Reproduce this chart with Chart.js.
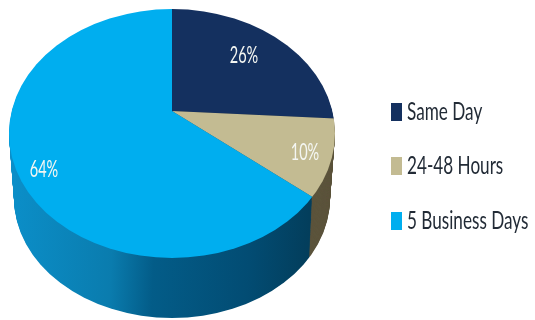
<!DOCTYPE html>
<html>
<head>
<meta charset="utf-8">
<title>Delivery time</title>
<script src="https://cdn.jsdelivr.net/npm/chart.js@4/dist/chart.umd.min.js"></script>
<style>
    html, body { margin: 0; padding: 0; background: #fff; }
    canvas { display: block; }
</style>
</head>
<body>
<canvas id="pie" width="535" height="320"></canvas>
<script>
const categories = ['Same Day', '24-48 Hours', '5 Business Days'];
const shares = [26, 10, 64];
const percentLabels = ['26%', '10%', '64%'];
const sliceColors = ['#14305f', '#c3bb92', '#00aeef'];

// Where the tilted disc sits on the canvas
const disc = { apexX: 172, apexY: 111, cx: 172, cy: 133.5, rx: 163, ry: 124.5, squash: 0.74, reach: 260 };
// Lower edge of the rim: the apex drops less than the outline does
const rim = { steps: 64, apexDrop: 60, apexDrift: -3, cyDrop: 64.5, bottomRx: 158, bottomRy: 120 };
const labelAnchors = [[244, 56], [305, 153], [44, 170]];

// Lato is too wide for these labels, so text gets squeezed horizontally
const legendSqueeze = 0.686;
const labelSqueeze = 0.63;
const legendTextX = 407;
const legendFontSize = 25;

// Legend swatches are small canvases so the gap to the text stays tight
function makeSwatch(color) {
    const c = document.createElement('canvas');
    c.width = Math.round(11 / legendSqueeze);
    c.height = 18;
    const g = c.getContext('2d');
    g.fillStyle = color;
    g.fillRect(0, 0, c.width, c.height);
    return c;
}
const swatches = sliceColors.map(makeSwatch);

function rimFill(ctx, arc, index, scaleX) {
    if (index === 1) return '#5c543c';
    if (index === 0) return '#0c1f3f';
    const toArc = x => arc.x + (x - disc.apexX) / scaleX;
    const grad = ctx.createLinearGradient(toArc(10), 0, toArc(310), 0);
    grad.addColorStop(0, '#0b8fc9');
    grad.addColorStop(0.34, '#0a7cae');
    grad.addColorStop(0.48, '#035c88');
    grad.addColorStop(0.8, '#024c73');
    grad.addColorStop(1, '#033e5c');
    return grad;
}

function drawLayer(chart, ctx, t, fillFor) {
    const arcs = chart.getDatasetMeta(0).data;
    ctx.save();
    ctx.beginPath();
    ctx.ellipse(disc.cx, disc.cy + rim.cyDrop * t,
        disc.rx + (rim.bottomRx - disc.rx) * t,
        disc.ry + (rim.bottomRy - disc.ry) * t,
        0, 0, Math.PI * 2);
    ctx.clip();
    arcs.forEach((arc, i) => {
        const scaleX = disc.reach / arc.outerRadius;
        const saved = arc.options;
        arc.options = { ...saved, backgroundColor: fillFor(ctx, arc, i, scaleX) };
        ctx.save();
        ctx.translate(disc.apexX + rim.apexDrift * t, disc.apexY + rim.apexDrop * t);
        ctx.scale(scaleX, scaleX * disc.squash);
        ctx.translate(-arc.x, -arc.y);
        arc.draw(ctx);
        ctx.restore();
        arc.options = saved;
    });
    ctx.restore();
}

const tiltedDisc = {
    id: 'tiltedDisc',
    beforeDraw(chart) {
        // Squeeze the legend as it draws and pin its text column in place
        const legend = chart.legend;
        if (legend.squeezed) return;
        legend.squeezed = true;
        const drawLegend = legend.draw.bind(legend);
        legend.draw = () => {
            const boxLeft = legend.legendHitBoxes[0].left;
            const textLeft = boxLeft + legend.options.labels.boxWidth + legendFontSize / 2;
            const ctx = chart.ctx;
            ctx.save();
            ctx.translate(legendTextX, 0);
            ctx.scale(legendSqueeze, 1);
            ctx.translate(-textLeft, 0);
            drawLegend();
            ctx.restore();
        };
    },
    beforeDatasetsDraw(chart) {
        const ctx = chart.ctx;
        for (let step = rim.steps; step > 0; step--) {
            drawLayer(chart, ctx, step / rim.steps, rimFill);
        }
        drawLayer(chart, ctx, 0, (c, arc, i) => sliceColors[i]);
        return false;
    },
    afterDraw(chart) {
        const ctx = chart.ctx;
        percentLabels.forEach((text, i) => {
            ctx.save();
            ctx.translate(labelAnchors[i][0], labelAnchors[i][1]);
            ctx.scale(labelSqueeze, 1);
            ctx.font = '23px Lato';
            ctx.fillStyle = '#f4f6f2';
            ctx.textAlign = 'center';
            ctx.textBaseline = 'middle';
            ctx.fillText(text, 0, 0);
            ctx.restore();
        });
    }
};

new Chart(document.getElementById('pie'), {
    type: 'pie',
    data: {
        labels: categories,
        datasets: [{ data: shares, backgroundColor: sliceColors, borderWidth: 0 }]
    },
    options: {
        responsive: false,
        animation: false,
        layout: { padding: { top: 12, right: 0 } },
        plugins: {
            tooltip: { enabled: false },
            legend: {
                position: 'right',
                labels: {
                    font: { family: 'Lato', size: legendFontSize },
                    color: '#222b36',
                    usePointStyle: true,
                    boxWidth: 5,
                    boxHeight: 18,
                    padding: 29.5,
                    generateLabels(chart) {
                        return Chart.overrides.pie.plugins.legend.labels.generateLabels(chart)
                            .map((item, i) => ({ ...item, pointStyle: swatches[i] }));
                    }
                }
            }
        }
    },
    plugins: [tiltedDisc]
});
</script>
</body>
</html>
